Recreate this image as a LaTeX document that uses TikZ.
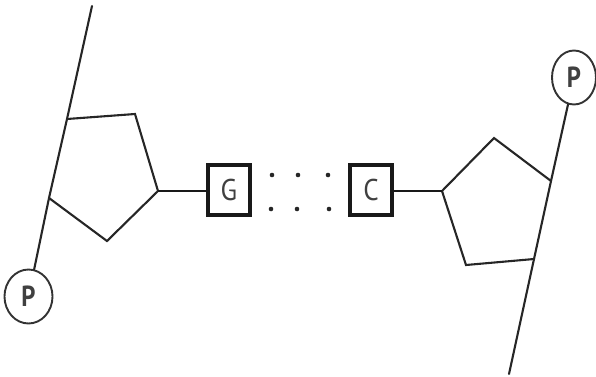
\documentclass[tikz,border=0pt]{standalone}
\usepackage{fontspec}
\usepackage{graphicx}
\setmainfont{PT Sans}
\usetikzlibrary{shapes.geometric}
\newcommand{\lab}[1]{\scalebox{0.9}[1]{#1}}
\newcommand{\labb}[1]{\scalebox{0.85}[1]{\bfseries #1}}
\tikzset{
  strand/.style={draw=black!85,line width=2.1pt,line cap=round,line join=miter},
  link/.style={draw=black!90,line width=2.8pt},
  basebox/.style={draw=black!90,line width=3.6pt,fill=white,minimum width=42pt,minimum height=50pt,inner sep=0pt,font=\fontsize{30}{30}\selectfont,text=black!75},
  phos/.style={shape=ellipse,draw=black!80,line width=1.9pt,fill=white,inner sep=0pt,font=\fontsize{29}{29}\selectfont,text=black!75},
  hb/.style={circle,fill=black!85,inner sep=0pt,minimum size=4.6pt}
}
\begin{document}
\begin{tikzpicture}[x=1pt,y=-1pt]
\useasboundingbox (0,0) rectangle (596,376);
\coordinate (topL) at (92,6);
\coordinate (a1) at (67,119);
\coordinate (a2) at (135,114);
\coordinate (a3) at (158,191);
\coordinate (a4) at (107,241);
\coordinate (a5) at (49,198);
\coordinate (botR) at (509,374);
\coordinate (b1) at (442,191);
\coordinate (b2) at (494,138);
\coordinate (b3) at (551,181);
\coordinate (b4) at (534,259);
\coordinate (b5) at (466,265);
\node[phos,minimum width=48pt,minimum height=54pt] (pl) at (28.5,296.5) {\labb{P}};
\node[phos,minimum width=44pt,minimum height=54pt] (pr) at (574,77.5) {\labb{P}};
\node[basebox] (g) at (229,190) {\lab{G}};
\node[basebox] (c) at (371,190) {\lab{C}};
\node[hb] (d1) at (272,175) {};
\node[hb] (d2) at (298,175) {};
\node[hb] (d3) at (328,175) {};
\node[hb] (d4) at (271,209) {};
\node[hb] (d5) at (297,209) {};
\node[hb] (d6) at (329,209) {};
\draw[strand] (topL) -- (a1) -- (a5) -- (pl);
\draw[strand] (a1) -- (a2) -- (a3) -- (a4) -- (a5);
\draw[strand] (pr) -- (b3) -- (b4) -- (botR);
\draw[strand] (b4) -- (b5) -- (b1) -- (b2) -- (b3);
\draw[link] (a3) -- (a3 -| g.west);
\draw[link] (c.east |- b1) -- (b1);
\end{tikzpicture}
\end{document}
